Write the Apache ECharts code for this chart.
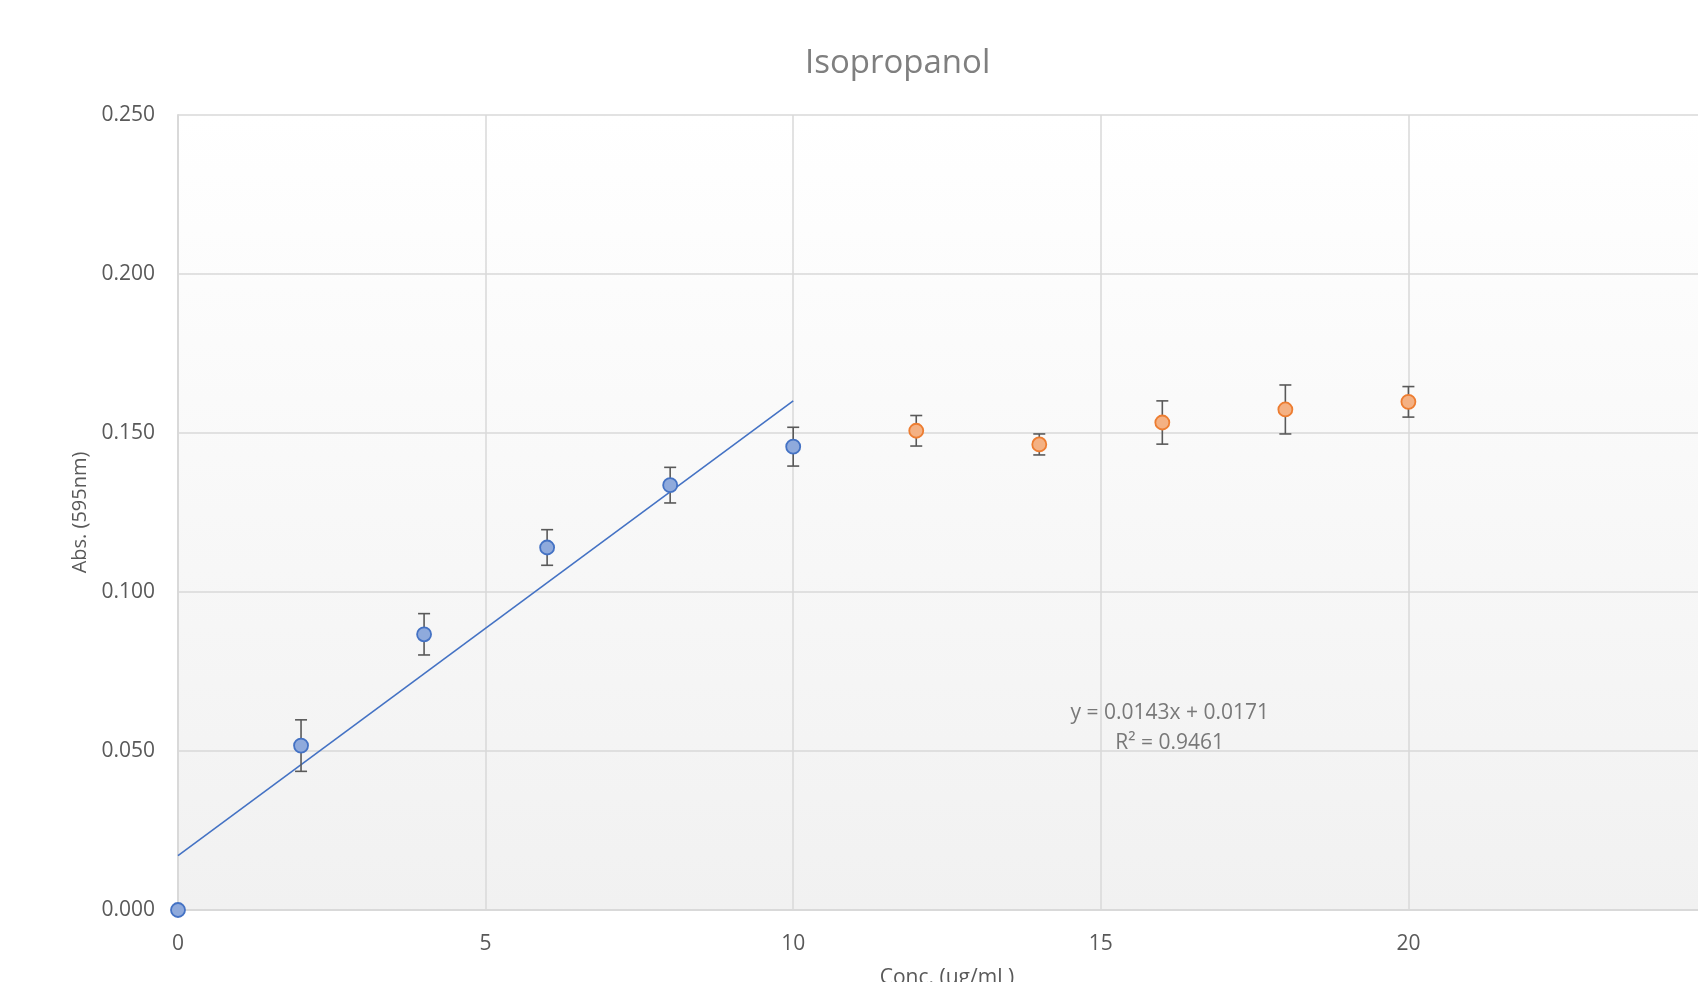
<!DOCTYPE html>
<html>
<head>
<meta charset="utf-8">
<script src="https://cdn.jsdelivr.net/npm/echarts@6/dist/echarts.min.js"></script>
<style>
html,body{margin:0;padding:0;background:#fff;}
#chart{width:1698px;height:982px;}
</style>
</head>
<body>
<div id="chart"></div>
<script>
// ---- data ----
const blueX = [0, 2, 4, 6, 8, 10];
const blueY = [0, 0.0517, 0.0867, 0.1140, 0.1336, 0.1457];
const blueErr = [0, 0.0081, 0.0065, 0.0056, 0.0056, 0.0061];
const orangeX = [12, 14, 16, 18, 20];
const orangeY = [0.1507, 0.1464, 0.1533, 0.1574, 0.1598];
const orangeErr = [0.0048, 0.0033, 0.0068, 0.0077, 0.0048];
const trendX = [0, 10];
const trendY = [0.0171, 0.1601];
const trendText = ['y = 0.0143x + 0.0171', 'R\u00b2 = 0.9461'];
const trendTextAt = [16.12, 0.0572];
const xTicks = [0, 5, 10, 15, 20, 25];
const yTicks = [0, 0.05, 0.10, 0.15, 0.20, 0.25];
const titleText = 'Isopropanol';
const xName = 'Conc. (ug/mL)';
const yName = 'Abs. (595nm)';

const FONT = '"Open Sans", "Noto Sans", sans-serif';
const zip = (xs, ys) => xs.map((x, i) => [x, ys[i]]);
const zip3 = (xs, ys, es) => xs.map((x, i) => [x, ys[i], es[i]]);

function errRender(params, api) {
  const x = api.value(0), y = api.value(1), e = api.value(2);
  if (!e) return null;
  const top = api.coord([x, y + e]);
  const bot = api.coord([x, y - e]);
  const hw = 6;
  const st = { stroke: '#595959', lineWidth: 1.6 };
  return {
    type: 'group',
    children: [
      { type: 'line', shape: { x1: top[0], y1: top[1], x2: bot[0], y2: bot[1] }, style: st },
      { type: 'line', shape: { x1: top[0] - hw, y1: top[1], x2: top[0] + hw, y2: top[1] }, style: st },
      { type: 'line', shape: { x1: bot[0] - hw, y1: bot[1], x2: bot[0] + hw, y2: bot[1] }, style: st }
    ]
  };
}

const chart = echarts.init(document.getElementById('chart'));
chart.setOption({
  animation: false,
  backgroundColor: '#ffffff',
  title: {
    text: titleText,
    left: 800,
    top: 42,
    textStyle: { fontFamily: FONT, fontSize: 33, fontWeight: 'normal', color: '#7f7f7f' }
  },
  grid: {
    left: 178, right: -18, top: 115, bottom: 72,
    outerBoundsMode: 'none',
    containLabel: false,
    show: true,
    borderWidth: 0,
    backgroundColor: new echarts.graphic.LinearGradient(0, 0, 0, 1, [
      { offset: 0, color: '#ffffff' },
      { offset: 1, color: '#f1f1f1' }
    ])
  },
  xAxis: {
    type: 'value',
    min: xTicks[0], max: xTicks[xTicks.length - 1], interval: 5,
    name: xName, nameLocation: 'middle', nameGap: 58,
    nameTextStyle: { fontFamily: FONT, fontSize: 21, color: '#595959' },
    axisLine: { show: true, lineStyle: { color: '#d9d9d9', width: 2 } },
    axisTick: { show: false },
    axisLabel: { fontFamily: FONT, fontSize: 21, color: '#595959', margin: 24 },
    splitLine: { show: true, lineStyle: { color: '#d9d9d9', width: 1.5 } }
  },
  yAxis: {
    type: 'value',
    min: yTicks[0], max: yTicks[yTicks.length - 1], interval: 0.05,
    name: yName, nameLocation: 'middle', nameGap: 88, nameRotate: 90,
    nameTextStyle: { fontFamily: FONT, fontSize: 20, color: '#595959' },
    axisLine: { show: true, lineStyle: { color: '#d9d9d9', width: 2 } },
    axisTick: { show: false },
    axisLabel: { fontFamily: FONT, fontSize: 21, color: '#595959', margin: 23,
      formatter: v => v.toFixed(3) },
    splitLine: { show: true, lineStyle: { color: '#d9d9d9', width: 1.5 } }
  },
  series: [
    {
      type: 'line', data: zip(trendX, trendY), symbol: 'none', z: 3,
      lineStyle: { color: '#4472c4', width: 1.6 }, silent: true
    },
    {
      type: 'custom', renderItem: errRender, data: zip3(blueX, blueY, blueErr), z: 4, silent: true
    },
    {
      type: 'custom', renderItem: errRender, data: zip3(orangeX, orangeY, orangeErr), z: 4, silent: true
    },
    {
      type: 'scatter', data: zip(blueX, blueY), symbol: 'circle', symbolSize: 14, z: 5,
      itemStyle: { color: '#8faadc', borderColor: '#4472c4', borderWidth: 1.8, opacity: 1 }
    },
    {
      type: 'scatter', data: zip(orangeX, orangeY), symbol: 'circle', symbolSize: 14, z: 5,
      itemStyle: { color: '#f4b183', borderColor: '#ed7d31', borderWidth: 1.8, opacity: 1 }
    },
    {
      type: 'scatter', data: [trendTextAt], symbolSize: 0, z: 6, silent: true,
      label: {
        show: true, position: 'inside',
        formatter: trendText.join('\n'),
        fontFamily: FONT, fontSize: 21, color: '#595959', lineHeight: 30, align: 'center'
      }
    }
  ]
});
</script>
</body>
</html>
